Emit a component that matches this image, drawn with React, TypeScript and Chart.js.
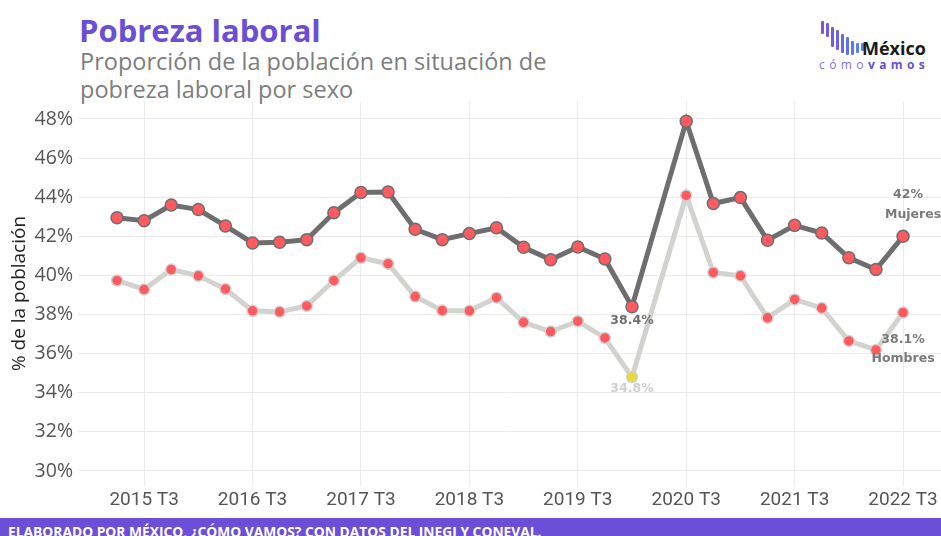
import React, { useEffect, useRef } from "react";
import { Chart, registerables } from "chart.js";

Chart.register(...registerables);

const categories = [
  "2015 T2", "2015 T3", "2015 T4",
  "2016 T1", "2016 T2", "2016 T3", "2016 T4",
  "2017 T1", "2017 T2", "2017 T3", "2017 T4",
  "2018 T1", "2018 T2", "2018 T3", "2018 T4",
  "2019 T1", "2019 T2", "2019 T3", "2019 T4",
  "2020 T1", "2020 T2", "2020 T3", "2020 T4",
  "2021 T1", "2021 T2", "2021 T3", "2021 T4",
  "2022 T1", "2022 T2", "2022 T3",
];

const mujeres = [
  42.95, 42.8, 43.6,
  43.37, 42.53, 41.66, 41.7,
  41.83, 43.2, 44.24, 44.27,
  42.36, 41.83, 42.14, 42.44,
  41.44, 40.8, 41.45, 40.84,
  38.4, null, 47.88, 43.68,
  43.98, 41.8, 42.56, 42.17,
  40.9, 40.3, 42.0,
];

const hombres = [
  39.74, 39.28, 40.3,
  39.98, 39.3, 38.19, 38.14,
  38.44, 39.74, 40.9, 40.6,
  38.92, 38.2, 38.19, 38.86,
  37.6, 37.13, 37.66, 36.8,
  34.8, null, 44.09, 40.15,
  39.98, 37.83, 38.77, 38.33,
  36.65, 36.19, 38.1,
];

const xTickLabels = ["2015 T3", "2016 T3", "2017 T3", "2018 T3", "2019 T3", "2020 T3", "2021 T3", "2022 T3"];
const yTicks = [30, 32, 34, 36, 38, 40, 42, 44, 46, 48];

const MIN_IDX = mujeres.indexOf(38.4);
const LAST_IDX = categories.length - 1;

const labelPlugin = {
  id: "pointLabels",
  afterDatasetsDraw(chart: any) {
    const { ctx, scales } = chart;
    const x = scales.x;
    const y = scales.y;
    ctx.save();
    ctx.textAlign = "center";
    ctx.textBaseline = "middle";
    ctx.font = "bold 12.5px 'DejaVu Sans'";
    const px = (i: number) => x.getPixelForValue(i);
    ctx.fillStyle = "#6f6f6f";
    ctx.fillText(mujeres[MIN_IDX] + "%", px(MIN_IDX), y.getPixelForValue(mujeres[MIN_IDX] as number) + 14);
    ctx.fillStyle = "#cfcfcf";
    ctx.fillText(hombres[MIN_IDX] + "%", px(MIN_IDX), y.getPixelForValue(hombres[MIN_IDX] as number) + 12);
    const mLast = mujeres[LAST_IDX] as number;
    const hLast = hombres[LAST_IDX] as number;
    ctx.fillStyle = "#7a7a7a";
    ctx.fillText(Math.round(mLast) + "%", px(LAST_IDX) + 5, y.getPixelForValue(mLast) - 42);
    ctx.fillText("Mujeres", px(LAST_IDX) + 10, y.getPixelForValue(mLast) - 22);
    ctx.fillText(hLast + "%", px(LAST_IDX), y.getPixelForValue(hLast) + 27);
    ctx.fillText("Hombres", px(LAST_IDX), y.getPixelForValue(hLast) + 46);
    ctx.restore();
  },
};

function LineChart() {
  const ref = useRef<HTMLCanvasElement>(null);
  useEffect(() => {
    if (!ref.current) return;
    const hPointColors = hombres.map((_, i) => (i === MIN_IDX ? "#e8d93a" : "#ff5a5f"));
    const chart = new Chart(ref.current, {
      type: "line",
      data: {
        datasets: [
          {
            label: "Hombres",
            data: hombres.map((v, i) => ({ x: i, y: v })),
            borderColor: "#d2d2ce",
            borderWidth: 5,
            pointRadius: 5.5,
            pointBackgroundColor: hPointColors,
            pointBorderColor: "#d2d2ce",
            pointBorderWidth: 1.5,
            spanGaps: true,
            tension: 0,
          },
          {
            label: "Mujeres",
            data: mujeres.map((v, i) => ({ x: i, y: v })),
            borderColor: "#6e6e6e",
            borderWidth: 5,
            pointRadius: 6,
            pointBackgroundColor: "#ff5a5f",
            pointBorderColor: "#6e6e6e",
            pointBorderWidth: 1.5,
            spanGaps: true,
            tension: 0,
          },
        ],
      },
      options: {
        animation: false,
        responsive: false,
        layout: { padding: 0, autoPadding: false },
        plugins: { legend: { display: false }, tooltip: { enabled: false } },
        scales: {
          x: {
            type: "linear",
            min: -1.44,
            max: 30.4,
            afterBuildTicks: (s: any) => {
              s.ticks = xTickLabels.map((l) => ({ value: categories.indexOf(l) }));
            },
            afterFit: (s: any) => {
              s.height = 27;
              s.paddingLeft = 0;
              s.paddingRight = 0;
            },
            ticks: {
              callback: (v: any) => categories[v as number],
              font: { family: "Roboto", size: 19 },
              color: "#555555",
              padding: 3,
              maxRotation: 0,
              autoSkip: false,
            },
            grid: { color: "#ebebeb", lineWidth: 1, drawTicks: false },
            border: { display: false },
          },
          y: {
            min: 29.23,
            max: 48.92,
            afterBuildTicks: (s: any) => {
              s.ticks = yTicks.map((v) => ({ value: v }));
            },
            afterFit: (s: any) => {
              s.width = 78;
              s.paddingTop = 0;
              s.paddingBottom = 0;
            },
            ticks: {
              callback: (v: any) => v + "%",
              font: { family: "Open Sans", size: 19.5 },
              color: "#555555",
              padding: 5,
            },
            title: {
              display: true,
              text: "% de la población",
              font: { family: "Open Sans", size: 19 },
              color: "#222222",
              padding: { top: 8, bottom: 0 },
            },
            grid: { color: "#ebebeb", lineWidth: 1, drawTicks: false },
            border: { display: false },
          },
        },
      },
      plugins: [labelPlugin],
    } as any);
    return () => chart.destroy();
  }, []);
  return <canvas ref={ref} width={941} height={412} style={{ position: "absolute", left: 0, top: 101, width: 941, height: 412 }} />;
}

const logoBars = [
  { top: 21, h: 13 },
  { top: 23, h: 14 },
  { top: 27, h: 20 },
  { top: 30, h: 20 },
  { top: 34, h: 19 },
  { top: 37, h: 18 },
  { top: 41, h: 14 },
  { top: 43, h: 10 },
  { top: 43, h: 8 },
];
const barColors = ["#7b55e2", "#7658e3", "#715ce5", "#6b62e8", "#6569ea", "#5f71ec", "#5a79ee", "#5680f0", "#5386f1"];

function Logo() {
  return (
    <div style={{ position: "absolute", left: 0, top: 0 }}>
      {logoBars.map((b, i) => (
        <div
          key={i}
          style={{
            position: "absolute",
            left: 821 + i * 5,
            top: b.top,
            width: 2.5,
            height: b.h,
            background: barColors[i],
            borderRadius: 1,
          }}
        />
      ))}
      <div style={{ position: "absolute", left: 862, top: 37, fontFamily: "'Open Sans'", fontWeight: 700, fontSize: 18, color: "#1a1a1a", lineHeight: "22px" }}>
        México
      </div>
      <div style={{ position: "absolute", left: 819, top: 57, fontFamily: "'Open Sans'", fontSize: 12, letterSpacing: 4.4, lineHeight: "16px", whiteSpace: "nowrap" }}>
        <span style={{ color: "#8a6fe6" }}>cómo</span>
        <span style={{ color: "#6a4fd6", fontWeight: 700 }}>vamos</span>
      </div>
    </div>
  );
}

export default function App() {
  return (
    <div style={{ position: "fixed", left: 0, top: 0, width: 941, height: 536, background: "#ffffff", overflow: "hidden" }}>
      <div style={{ position: "absolute", left: 79, top: 10, fontFamily: "'Open Sans'", fontWeight: 700, fontSize: 31, color: "#6a4fd6", lineHeight: "40px", whiteSpace: "nowrap" }}>
        Pobreza laboral
      </div>
      <div style={{ position: "absolute", left: 80, top: 47, fontFamily: "'Open Sans'", fontSize: 23.5, color: "#7d7d7d", lineHeight: "28px", whiteSpace: "nowrap" }}>
        Proporción de la población en situación de
        <br />
        pobreza laboral por sexo
      </div>
      <Logo />
      <LineChart />
      <div style={{ position: "absolute", left: 0, top: 518, width: 941, height: 18, background: "#6b4fd6", overflow: "hidden" }}>
        <div style={{ position: "absolute", left: 8, top: 4.5, fontFamily: "'Open Sans'", fontWeight: 700, fontSize: 13.8, color: "#ffffff", lineHeight: "18px", whiteSpace: "nowrap" }}>
          ELABORADO POR MÉXICO, ¿CÓMO VAMOS? CON DATOS DEL INEGI Y CONEVAL.
        </div>
      </div>
    </div>
  );
}
